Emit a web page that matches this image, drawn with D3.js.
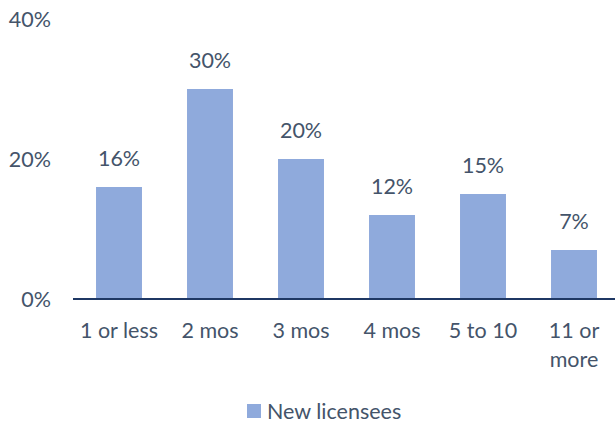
<!DOCTYPE html>
<html><head><meta charset="utf-8">
<script src="https://cdn.jsdelivr.net/npm/d3@7"></script>
<style>body{margin:0;background:#fff}svg{display:block}</style>
</head><body>
<script>
const categories = [["1 or less"], ["2 mos"], ["3 mos"], ["4 mos"], ["5 to 10"], ["11 or", "more"]];
const seriesName = "New licensees";
const values = [16, 30, 20, 12, 15, 7];
const yTicks = [0, 20, 40];

const W = 615, H = 423;
const font = "Lato, 'Liberation Sans', sans-serif";
const fs = 21.5;
const textColor = "#44546A";
const svg = d3.select("body").append("svg").attr("width", W).attr("height", H);

const x = d3.scaleBand().domain(d3.range(categories.length)).range([73.5, 619.5]).paddingInner(0.495).paddingOuter(0.2475);
const y = d3.scaleLinear().domain([0, 40]).range([299, 19]);

// y tick labels
svg.append("g").selectAll("text").data(yTicks).join("text")
  .attr("x", 51).attr("y", d => y(d) + 8)
  .attr("text-anchor", "end").attr("font-family", font).attr("font-size", fs)
  .attr("fill", textColor).text(d => d + "%");

// bars
svg.append("g").selectAll("rect").data(values).join("rect")
  .attr("x", (d, i) => x(i)).attr("width", x.bandwidth())
  .attr("y", d => y(d)).attr("height", d => y(0) - y(d))
  .attr("fill", "#8FAADC");

// axis line
const xAxis = d3.axisBottom(x).tickSize(0).tickFormat("");
const gx = svg.append("g").attr("transform", `translate(0,${y(0)})`).call(xAxis);
gx.select(".domain").attr("stroke", "#1F3864").attr("stroke-width", 2).attr("d", "M73,0H619");

// value labels
svg.append("g").selectAll("text").data(values).join("text")
  .attr("x", (d, i) => x(i) + x.bandwidth() / 2).attr("y", d => y(d) - 21)
  .attr("text-anchor", "middle").attr("font-family", font).attr("font-size", fs)
  .attr("fill", textColor).text(d => d + "%");

// category labels
const cl = svg.append("g").selectAll("text").data(categories).join("text")
  .attr("x", (d, i) => x(i) + x.bandwidth() / 2).attr("y", 338)
  .attr("text-anchor", "middle").attr("font-family", font).attr("font-size", fs)
  .attr("fill", textColor);
cl.selectAll("tspan").data((d, i) => d.map(s => ({s, i}))).join("tspan")
  .attr("x", d => x(d.i) + x.bandwidth() / 2).attr("dy", (d, j) => j === 0 ? 0 : 29).text(d => d.s);

// legend
const lg = svg.append("g");
lg.append("rect").attr("x", 247).attr("y", 404).attr("width", 14).attr("height", 14).attr("fill", "#8FAADC");
lg.append("text").attr("x", 267).attr("y", 419)
  .attr("font-family", font).attr("font-size", fs).attr("fill", textColor).text(seriesName);
</script>
</body></html>
